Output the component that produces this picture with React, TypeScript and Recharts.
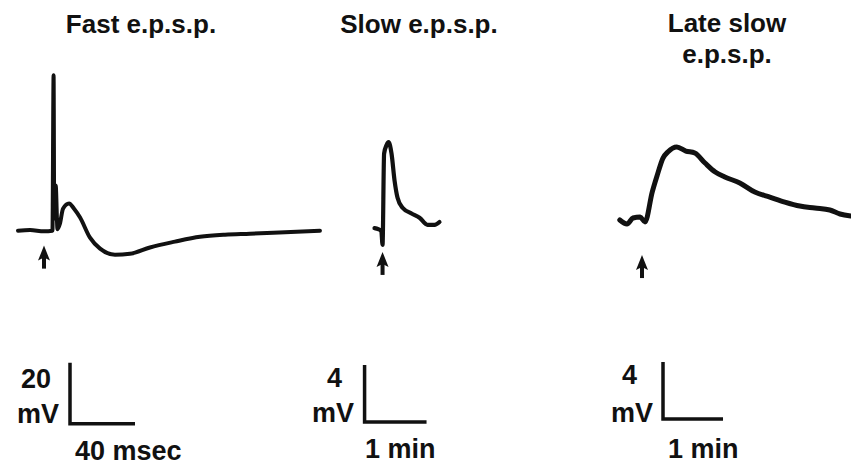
import React from "react";
import { ComposedChart, Line, Scatter, XAxis, YAxis } from "recharts";

// Fast e.p.s.p. — time in msec from the stimulus, potential in mV from rest
const fastTimes = [-16, -8.6, 0, 5.2, 5.9, 6.3, 7.2, 8.3, 9.8, 11.7, 15.4, 18.5, 22.2, 28.3, 34.5, 43.7, 52.9, 65.2, 80.6, 96, 111.4, 126.8, 148.3, 169.8];
const fastMv = [0, 0.2, -0.2, 0, 51, 4, 14.8, 0.5, 2.3, 7.2, 8.9, 7.2, 4.3, -2.3, -5.9, -7.9, -7.6, -5.5, -3.6, -2, -1.3, -1, -0.5, 0];

// Slow e.p.s.p. — time in min
const slowTimes = [-0.13, -0.07, -0.02, 0, 0.025, 0.065, 0.097, 0.145, 0.194, 0.242, 0.323, 0.468, 0.597, 0.726, 0.839, 0.919];
const slowMv = [0.07, 0, -0.14, -1.1, 5.3, 5.9, 6.1, 5.3, 3.4, 2.2, 1.5, 1.1, 0.8, 0.3, 0.3, 0.5];

// Late slow e.p.s.p. — time in min
const lateTimes = [-0.37, -0.25, -0.15, -0.03, 0.05, 0.17, 0.25, 0.35, 0.43, 0.58, 0.73, 0.88, 1.05, 1.22, 1.38, 1.63, 1.88, 2.13, 2.38, 2.63, 2.88, 3.13, 3.3, 3.48];
const lateMv = [0, -0.28, 0.14, 0.21, -0.14, 1.96, 3.09, 4.35, 4.77, 5.12, 4.84, 4.7, 4.0, 3.37, 3.02, 2.6, 1.96, 1.61, 1.26, 0.98, 0.84, 0.7, 0.42, 0.28];

// stimulus times (arrows)
const stimulusTimes = [0, 0, 0];

// calibration bars: [mV, time]
const barMv = [20, 4, 4];
const barTime = [40, 1, 1];

const titles = ["Fast e.p.s.p.", "Slow e.p.s.p.", "Late slow"];
const barMvLabels = ["20", "4", "4"];
const barTimeLabels = ["40 msec", "1 min", "1 min"];

const zip = (t: number[], v: number[]) => t.map((x, i) => ({ t: x, v: v[i] }));

const traces = [zip(fastTimes, fastMv), zip(slowTimes, slowMv), zip(lateTimes, lateMv)];

// layout of each panel
const panels = [
  { left: 5, top: 60, width: 325, height: 381, x: [-24, 176], y: [-69, 56], bar: [16, -63.3], arrowV: -4.9, sw: 4 },
  { left: 302, top: 60, width: 158, height: 380, x: [-1.3, 1.25], y: [-14.8, 11.87], bar: [-0.29, -13.54], arrowV: -1.6, sw: 4.2 },
  { left: 606, top: 60, width: 245, height: 380, x: [-0.6, 3.483], y: [-15.44, 11.23], bar: [0.35, -13.96], arrowV: -2.46, sw: 5 },
];

const INK = "#111";
const FONT = "'Liberation Sans', Arial, sans-serif";

const Arrow = (props: any) => {
  const { cx, cy } = props;
  if (cx == null || cy == null) return null;
  return (
    <g>
      <polygon points={`${cx},${cy} ${cx - 6},${cy + 15} ${cx},${cy + 12} ${cx + 6},${cy + 15}`} fill={INK} />
      <rect x={cx - 2} y={cy + 10} width={4} height={13} fill={INK} />
    </g>
  );
};

function Panel({ idx }: { idx: number }) {
  const p = panels[idx];
  const [ox, oy] = p.bar;
  const bar = [
    { t: ox, v: oy + barMv[idx] },
    { t: ox, v: oy },
    { t: ox + barTime[idx], v: oy },
  ];
  const arrow = [{ t: stimulusTimes[idx], v: p.arrowV }];
  return (
    <div style={{ position: "absolute", left: p.left, top: p.top }}>
      <ComposedChart width={p.width} height={p.height} margin={{ top: 0, right: 0, bottom: 0, left: 0 }}>
        <XAxis type="number" dataKey="t" domain={p.x} allowDataOverflow hide />
        <YAxis type="number" dataKey="v" domain={p.y} allowDataOverflow hide width={0} />
        <Line
          data={traces[idx]}
          dataKey="v"
          type="monotone"
          stroke={INK}
          strokeWidth={p.sw}
          strokeLinejoin="round"
          strokeLinecap="round"
          dot={false}
          isAnimationActive={false}
        />
        <Line
          data={bar}
          dataKey="v"
          type="linear"
          stroke={INK}
          strokeWidth={3.5}
          dot={false}
          isAnimationActive={false}
        />
        <Scatter data={arrow} dataKey="v" shape={<Arrow />} isAnimationActive={false} />
      </ComposedChart>
    </div>
  );
}

export default function App() {
  const txt = { fontFamily: FONT, fontSize: 27, fontWeight: 700, fill: INK } as const;
  return (
    <div style={{ position: "absolute", left: 0, top: 0, width: 851, height: 466, overflow: "hidden", background: "#fff" }}>
      <Panel idx={0} />
      <Panel idx={1} />
      <Panel idx={2} />
      <svg width={851} height={466} style={{ position: "absolute", left: 0, top: 0, pointerEvents: "none" }}>
        <text x={141} y={33} textAnchor="middle" {...txt} fontSize={26}>{titles[0]}</text>
        <text x={419} y={33} textAnchor="middle" {...txt} fontSize={26}>{titles[1]}</text>
        <text x={727} y={32} textAnchor="middle" {...txt} fontSize={26}>{titles[2]}</text>
        <text x={727} y={63} textAnchor="middle" {...txt} fontSize={26}>e.p.s.p.</text>

        <text x={51} y={388} textAnchor="end" {...txt}>{barMvLabels[0]}</text>
        <text x={59} y={423} textAnchor="end" {...txt}>mV</text>
        <text x={75} y={460} {...txt}>{barTimeLabels[0]}</text>

        <text x={342} y={387} textAnchor="end" {...txt}>{barMvLabels[1]}</text>
        <text x={354} y={422} textAnchor="end" {...txt}>mV</text>
        <text x={365} y={458} {...txt}>{barTimeLabels[1]}</text>

        <text x={637} y={384} textAnchor="end" {...txt}>{barMvLabels[2]}</text>
        <text x={653} y={422} textAnchor="end" {...txt}>mV</text>
        <text x={668} y={458} {...txt}>{barTimeLabels[2]}</text>
      </svg>
    </div>
  );
}
